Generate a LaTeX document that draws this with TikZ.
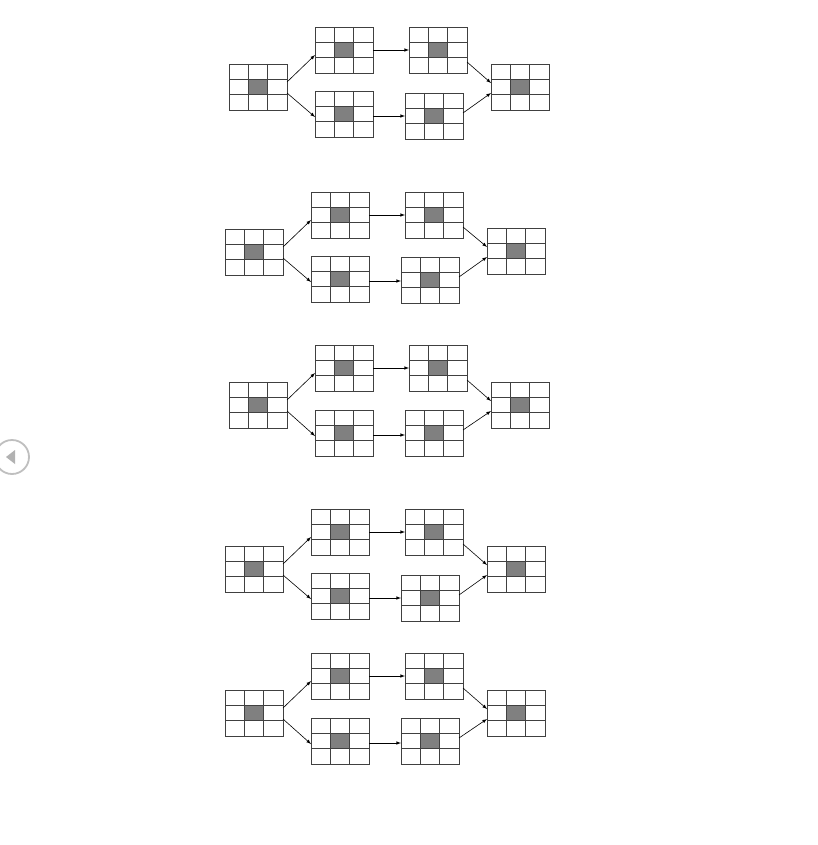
\documentclass[tikz,border=0pt]{standalone}
\usetikzlibrary{calc}
\tikzset{
  gbox/.style={draw=black!75, line width=0.6pt, minimum width=58pt, minimum height=46pt, inner sep=0pt, outer sep=0pt},
  arr/.style={-latex, line width=0.6pt},
}
\newcommand\gridbox[3]{%
  \fill[black!50] (#2+19.33,#3+15.33) rectangle (#2+38.67,#3+30.67);
  \draw[black!75, line width=0.6pt] (#2+19.33,#3) -- (#2+19.33,#3+46) (#2+38.67,#3) -- (#2+38.67,#3+46)
     (#2,#3+15.33) -- (#2+58,#3+15.33) (#2,#3+30.67) -- (#2+58,#3+30.67);
  \node[gbox] (#1) at (#2+29,#3+23) {};
}
\newcommand\group[7]{% prefix, dx, ys, yt, yb, yb2, ye
  \gridbox{#1s}{#2+229}{#3}
  \gridbox{#1t}{#2+315}{#4}
  \gridbox{#1u}{#2+409}{#4}
  \gridbox{#1b}{#2+315}{#5}
  \gridbox{#1c}{#2+405}{#6}
  \gridbox{#1e}{#2+491}{#7}
  \draw[arr] ([yshift=5pt]#1s.east) -- ([yshift=-5pt]#1t.west);
  \draw[arr] ([yshift=-6pt]#1s.east) -- ([yshift=-3pt]#1b.west);
  \draw[arr] (#1t.east) -- (#1u.west);
  \draw[arr] ([yshift=-2pt]#1b.east) -- ([yshift=-2pt]#1b.east -| #1c.west);
  \draw[arr] ([yshift=-12pt]#1u.east) -- ([yshift=4pt]#1e.west);
  \draw[arr] ([yshift=3pt]#1c.east) -- ([yshift=-6pt]#1e.west);
}
\begin{document}
\begin{tikzpicture}[x=1pt,y=-1pt]
\useasboundingbox[fill=white] (0,0) rectangle (817,845);
\group{a}{0}{64}{27}{91}{93}{64}
\group{b}{-4}{229}{192}{256}{257}{228}
\group{c}{0}{382}{345}{410}{410}{382}
\group{d}{-4}{546}{509}{573}{575}{546}
\group{f}{-4}{690}{653}{718}{718}{690}
\node[circle, draw=black!25, line width=1.8pt, minimum size=34pt, inner sep=0pt] (nav) at (12,457) {};
\fill[black!30] ($(nav.center)+(-6,0)$) -- ($(nav.center)+(3,-7)$) -- ($(nav.center)+(3,7)$) -- cycle;
\end{tikzpicture}
\end{document}
